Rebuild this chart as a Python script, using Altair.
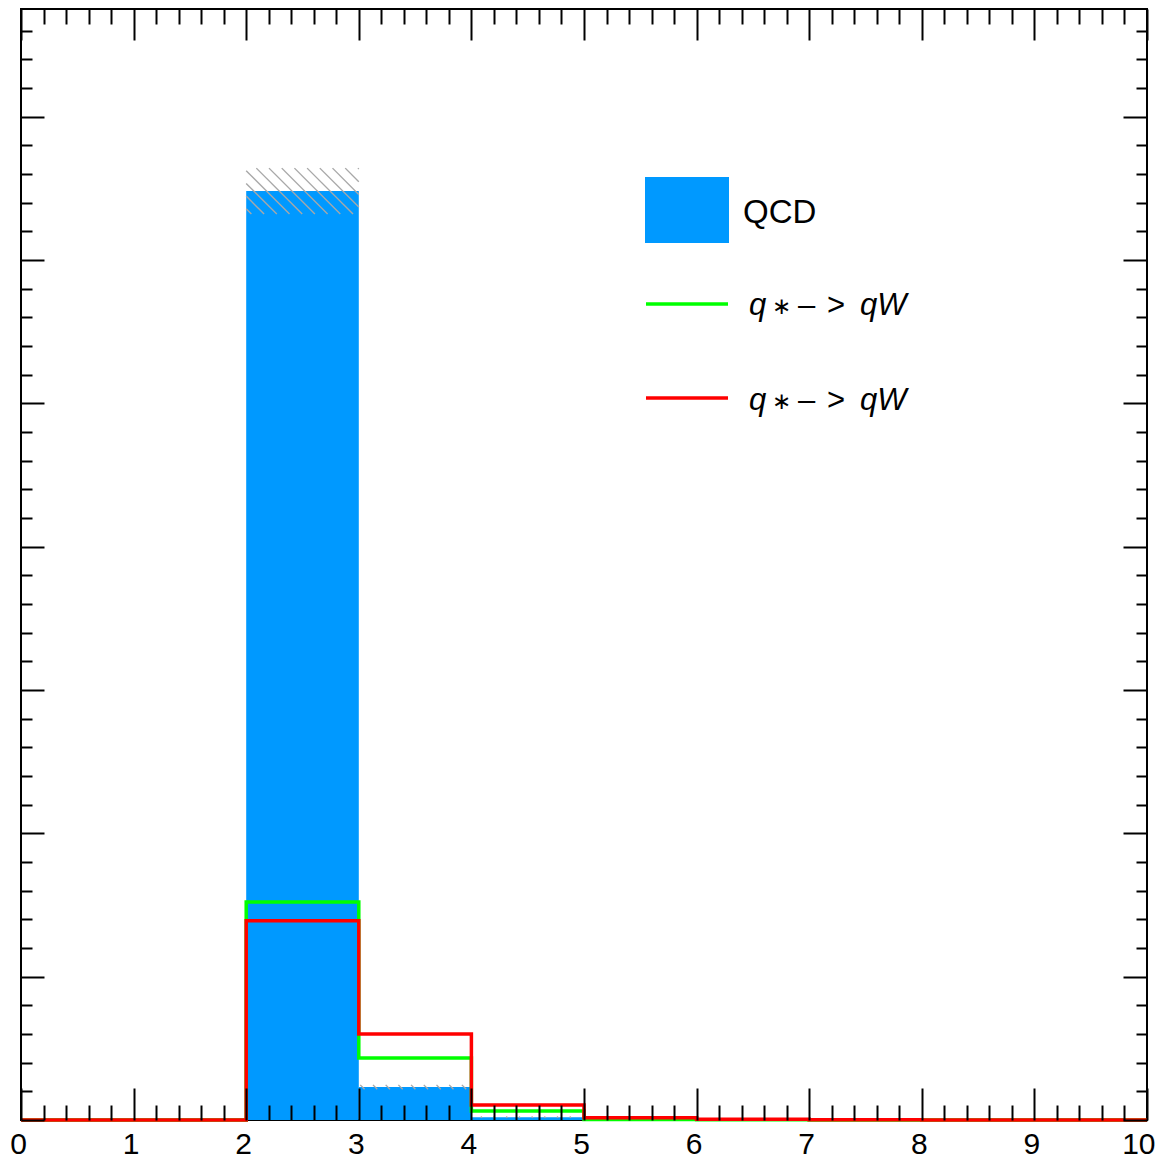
import altair as alt
import pandas as pd
import numpy as np

# ---- data (y in units of one major tick) ----
bin_lo = [0, 1, 2, 3, 4, 5, 6, 7, 8, 9]
bin_hi = [1, 2, 3, 4, 5, 6, 7, 8, 9, 10]
qcd = [0, 0, 6.48, 0.23, 0.02, 0, 0, 0, 0, 0]
qcd_err = [0, 0, 0.16, 0.015, 0.004, 0, 0, 0, 0, 0]
sig_green = [0, 0, 1.52, 0.433, 0.063, 0.004, 0.001, 0, 0, 0]
sig_red = [0, 0, 1.39, 0.60, 0.105, 0.015, 0.005, 0.001, 0, 0]
x_major = [0, 1, 2, 3, 4, 5, 6, 7, 8, 9, 10]
y_major = [0, 1, 2, 3, 4, 5, 6, 7]
legend_bkg = ["QCD"]
legend_sig_pieces = ["q", "∗", "–", ">", "qW"]   # text "q∗−> qW"

XMAX, YMAX = 10, 7.75
W, H = 1126, 1111
FONT = "Liberation Sans"

x_minor = [round(v, 1) for v in np.arange(0, XMAX + 1e-9, 0.2) if abs(v - round(v)) > 1e-6]
y_minor = [round(v, 1) for v in np.arange(0, YMAX, 0.2) if abs(v - round(v)) > 1e-6]

xs = alt.Scale(domain=[0, XMAX], nice=False, zero=False)
ys = alt.Scale(domain=[0, YMAX], nice=False, zero=False)

def ax(orient, values, size, labels=False):
    kw = dict(orient=orient, values=values, offset=-size, tickSize=size, domain=False,
              grid=False, ticks=True, tickColor="black", tickWidth=2, title=None,
              zindex=2, labels=labels)
    if labels:
        kw.update(labelFont=FONT, labelFontSize=30, labelColor="black", labelPadding=9,
                  labelFlush=False, labelOverlap=False, format="d",
                  labelAlign=alt.condition("datum.value == 10", alt.value("right"), alt.value("center")),
                  labelOffset=alt.condition("datum.value == 10", alt.value(8), alt.value(-3)))
    return alt.Axis(**kw)

qcd_df = pd.DataFrame({"lo": bin_lo, "hi": bin_hi, "v": qcd})

# hatch segments for the QCD uncertainty band (diagonal lines, computed from the errors)
sx, sy = W / XMAX, H / YMAX
spacing = 12.7
segs = []
for lo, hi, v, e in zip(bin_lo, bin_hi, qcd, qcd_err):
    if e <= 0:
        continue
    X0, X1 = lo * sx, hi * sx
    Yt, Yb = H - (v + e) * sy, H - (v - e) * sy
    kmin = int(np.floor((Yt - X1) / spacing)) - 1
    kmax = int(np.ceil((Yb - X0) / spacing)) + 1
    for k in range(kmin, kmax + 1):
        c = k * spacing
        a = max(X0, Yt - c)
        b = min(X1, Yb - c)
        if b - a > 0.5:
            segs.append({"x": a / sx, "y": (H - (a + c)) / sy,
                         "x2": b / sx, "y2": (H - (b + c)) / sy})
hatch_df = pd.DataFrame(segs)

def step_df(vals):
    return pd.DataFrame({"x": bin_lo + [bin_hi[-1]], "y": vals + [vals[-1]]})

bars = alt.Chart(qcd_df).mark_rect(color="#0099ff").encode(
    x=alt.X("lo:Q", scale=xs, axis=ax("bottom", x_major, 32, labels=True)),
    x2="hi:Q",
    y=alt.Y("v:Q", scale=ys, axis=ax("left", y_major, 23)),
    y2=alt.datum(0),
)

hatch = alt.Chart(hatch_df).mark_rule(color="#a8a8a8", strokeWidth=1.4).encode(
    x=alt.X("x:Q", scale=xs, axis=ax("bottom", x_minor, 15)),
    y=alt.Y("y:Q", scale=ys, axis=ax("left", y_minor, 11)),
    x2="x2:Q", y2="y2:Q",
)

green = alt.Chart(step_df(sig_green)).mark_line(
    color="#00ff00", strokeWidth=3.5, interpolate="step-after").encode(
    x=alt.X("x:Q", scale=xs, axis=ax("top", x_major, 31)),
    y=alt.Y("y:Q", scale=ys, axis=ax("right", y_major, 24)),
)

red = alt.Chart(step_df(sig_red)).mark_line(
    color="#ff0000", strokeWidth=3.5, interpolate="step-after").encode(
    x=alt.X("x:Q", scale=xs, axis=ax("top", x_minor, 15)),
    y=alt.Y("y:Q", scale=ys, axis=ax("right", y_minor, 11)),
)

# ---- legend (drawn inside the frame, ROOT TLegend style) ----
bkg_df = pd.DataFrame({"label": legend_bkg})
leg_layers = [
    alt.Chart(bkg_df).mark_rect(color="#0099ff").encode(
        x=alt.value(624), x2=alt.value(708), y=alt.value(168), y2=alt.value(234)),
    alt.Chart(bkg_df).mark_text(
        align="left", baseline="alphabetic", font=FONT, fontSize=33, color="black").encode(
        x=alt.value(722), y=alt.value(214), text="label:N"),
]
piece_x = [728, 751, 777, 806, 839]
piece_dy = [0, -1, 0, 0, 0]
piece_style = ["italic", "normal", "normal", "normal", "italic"]
piece_size = [31, 23, 31, 31, 31]
for line_color, line_y, base_y in [("#00ff00", 295, 306), ("#ff0000", 389, 401)]:
    leg_layers.append(alt.Chart(bkg_df).mark_rule(color=line_color, strokeWidth=3.5).encode(
        x=alt.value(625), x2=alt.value(707), y=alt.value(line_y)))
    for txt, px, dy, st, fs in zip(legend_sig_pieces, piece_x, piece_dy, piece_style, piece_size):
        pdf = pd.DataFrame({"label": [txt]})
        leg_layers.append(alt.Chart(pdf).mark_text(
            align="left", baseline="alphabetic", font=FONT, fontSize=fs, fontStyle=st,
            color="black").encode(x=alt.value(px), y=alt.value(base_y + dy), text="label:N"))

chart = alt.layer(
    bars, hatch, green, red, *leg_layers
).resolve_axis(x="independent", y="independent").properties(
    width=W, height=H,
    autosize=alt.AutoSizeParams(type="none"),
    padding={"left": 13, "top": 1, "right": 9, "bottom": 39},
    background="white",
).configure_view(stroke="black", strokeWidth=2)

chart.save("out.html", embed_options={"renderer": "svg", "actions": False})
